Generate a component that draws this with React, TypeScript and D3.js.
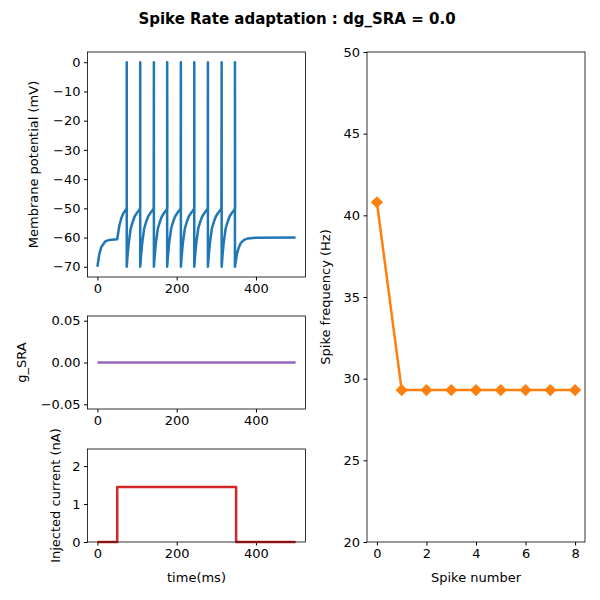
import { useRef, useEffect } from 'react'
import * as d3 from 'd3'

// spike times (ms)
const spikeTimes = [74, 108, 142.5, 176, 210.6, 244.4, 278.8, 313.5, 347]
// recovery after reset: [offset ms, mV]
const recovery: [number, number][] = [
  [0, -70], [2, -66.3], [5, -61.9], [10, -56.9], [15, -54.6],
  [20, -52.8], [25, -51.7], [30, -50.8], [34, -50],
]
const preStim: [number, number][] = [
  [0, -70], [5, -65.5], [10, -63.2], [20, -61.3], [30, -60.8], [50, -60.6],
]
const firstRise: [number, number][] = [
  [55, -56.15], [60, -53.5], [65, -51.8], [70, -50.8], [74, -50],
]
const tail: [number, number][] = [
  [352, -65.5], [357, -63.3], [362, -61.8], [370, -60.8], [380, -60.3], [400, -60.05], [500, -60],
]
const currentSteps: [number, number][] = [
  [0, 0], [50, 0], [50, 1.45], [350, 1.45], [350, 0], [500, 0],
]
const gSRA: [number, number][] = [[0, 0], [500, 0]]
const spikeFreq = [40.8, 29.3, 29.3, 29.3, 29.3, 29.3, 29.3, 29.3, 29.3]

const font = 'DejaVu Sans, sans-serif'

function buildTrace() {
  const pts: [number, number][] = [...preStim, ...firstRise]
  spikeTimes.forEach((t, i) => {
    pts.push([t, 0], [t, -70])
    if (i < spikeTimes.length - 1) {
      recovery.slice(1).forEach(([o, v]) => pts.push([t + o, v]))
    }
  })
  return pts.concat(tail)
}

export default function App() {
  const ref = useRef<SVGSVGElement>(null)

  useEffect(() => {
    const svg = d3.select(ref.current as SVGSVGElement)
    svg.selectAll('*').remove()
    svg.attr('font-family', font)

    const panel = (x0: number, x1: number, y0: number, y1: number,
      xd: [number, number], yd: [number, number], xt: number[], yt: number[],
      yfmt: (d: number) => string) => {
      const x = d3.scaleLinear().domain(xd).range([x0, x1])
      const y = d3.scaleLinear().domain(yd).range([y1, y0])
      const g = svg.append('g')
      const xa = g.append('g').attr('transform', `translate(0,${y1})`)
        .call(d3.axisBottom(x).tickValues(xt).tickSize(3.5).tickPadding(3.5).tickFormat((d) => String(d)))
      const ya = g.append('g').attr('transform', `translate(${x0},0)`)
        .call(d3.axisLeft(y).tickValues(yt).tickSize(3.5).tickPadding(3.5).tickFormat((d) => yfmt(+d).replace('-', '−')))
      for (const a of [xa, ya]) {
        a.select('.domain').remove()
        a.selectAll('text').attr('font-size', 13).attr('font-family', font).attr('fill', '#000')
        a.selectAll('line').attr('stroke', '#000')
      }
      g.append('rect').attr('x', x0).attr('y', y0).attr('width', x1 - x0).attr('height', y1 - y0)
        .attr('fill', 'none').attr('stroke', '#000').attr('stroke-width', 0.8)
      return { x, y, g }
    }

    const line = (p: { x: d3.ScaleLinear<number, number>, y: d3.ScaleLinear<number, number>, g: any },
      data: [number, number][], color: string) => {
      p.g.insert('path', 'rect').datum(data)
        .attr('d', d3.line<[number, number]>().x((d) => p.x(d[0])).y((d) => p.y(d[1])))
        .attr('fill', 'none').attr('stroke', color).attr('stroke-width', 2.5)
        .attr('stroke-linejoin', 'round')
    }

    const ylabel = (x: number, y: number, t: string) =>
      svg.append('text').attr('transform', `translate(${x},${y}) rotate(-90)`)
        .attr('text-anchor', 'middle').attr('font-size', 13).text(t)

    const xt = [0, 200, 400]
    const p1 = panel(87.5, 305.5, 52, 277, [-25, 525], [-73.5, 3.5], xt,
      [0, -10, -20, -30, -40, -50, -60, -70], (d) => String(d))
    line(p1, buildTrace(), '#1f77b4')
    ylabel(38, 164.5, 'Membrane potential (mV)')

    const p2 = panel(87.5, 305.5, 316, 409, [-25, 525], [-0.0556, 0.0556], xt,
      [0.05, 0, -0.05], (d) => d3.format('.2f')(d))
    line(p2, gSRA, '#9467bd')
    ylabel(26, 362.5, 'g_SRA')

    const p3 = panel(87.5, 305.5, 449, 542, [-25, 525], [0, 2.45], xt,
      [0, 1, 2], (d) => String(d))
    line(p3, currentSteps, '#d62728')
    ylabel(60, 495.5, 'Injected current (nA)')
    svg.append('text').attr('x', 196.5).attr('y', 582).attr('text-anchor', 'middle')
      .attr('font-size', 13).text('time(ms)')

    const p4 = panel(367, 585, 52, 542, [-0.4, 8.4], [20, 50], [0, 2, 4, 6, 8],
      [20, 25, 30, 35, 40, 45, 50], (d) => String(d))
    const fpts: [number, number][] = spikeFreq.map((v, i) => [i, v])
    line(p4, fpts, '#ff7f0e')
    p4.g.selectAll('.mk').data(fpts).enter().append('path').attr('class', 'mk')
      .attr('d', d3.symbol(d3.symbolDiamond2, 95))
      .attr('transform', (d: [number, number]) => `translate(${p4.x(d[0])},${p4.y(d[1])})`)
      .attr('fill', '#ff7f0e')
    ylabel(330, 297, 'Spike frequency (Hz)')
    svg.append('text').attr('x', 476).attr('y', 582).attr('text-anchor', 'middle')
      .attr('font-size', 13).text('Spike number')

    svg.append('text').attr('x', 297).attr('y', 24).attr('text-anchor', 'middle')
      .attr('font-size', 15).attr('font-weight', 'bold').text('Spike Rate adaptation : dg_SRA = 0.0')
  }, [])

  return <svg ref={ref} width={600} height={600} style={{ position: 'absolute', left: 0, top: 0 }} />
}
